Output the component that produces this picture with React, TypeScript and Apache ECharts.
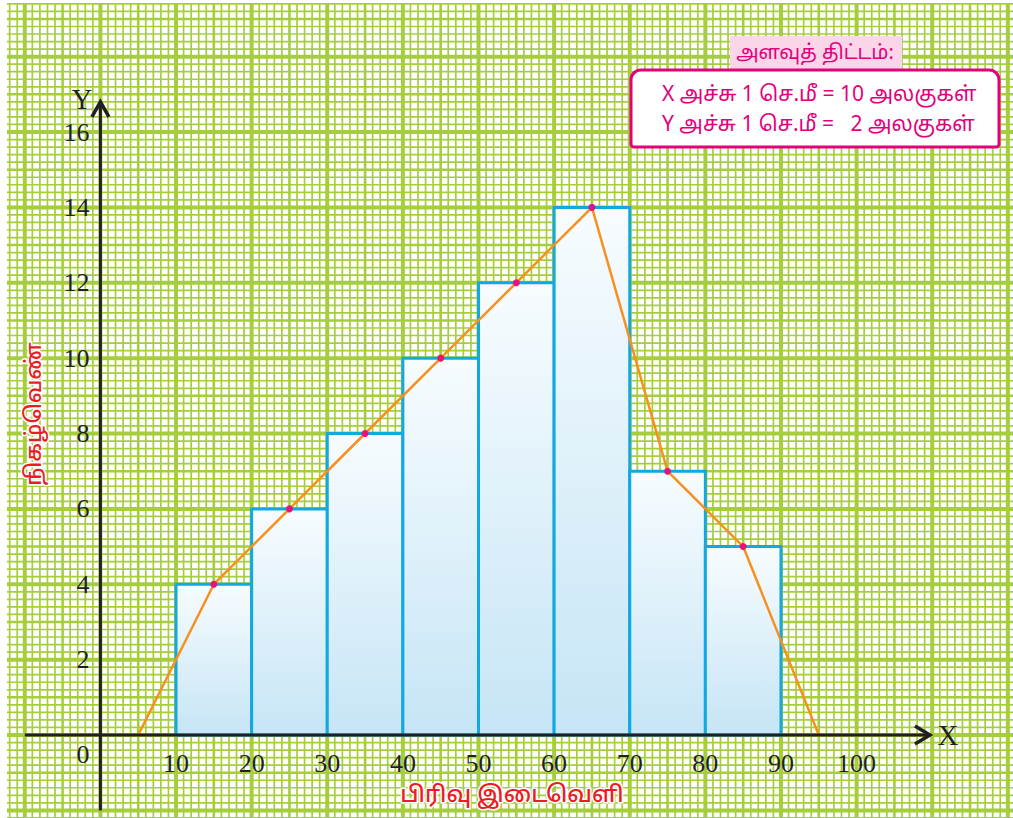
import React, { useEffect, useRef } from "react";
import * as echarts from "echarts";

// ---- data ----
const classStarts = [10, 20, 30, 40, 50, 60, 70, 80];
const classEnds = [20, 30, 40, 50, 60, 70, 80, 90];
const frequencies = [4, 6, 8, 10, 12, 14, 7, 5];
const polygonX = [5, 15, 25, 35, 45, 55, 65, 75, 85, 95];
const polygonY = [0, 4, 6, 8, 10, 12, 14, 7, 5, 0];
const xTickLabels = ["", "10", "20", "30", "40", "50", "60", "70", "80", "90", "100"];
const yTickLabels = ["0", "2", "4", "6", "8", "10", "12", "14", "16"];

const xAxisTitle = "பிரிவு இடைவெளி";
const yAxisTitle = "நிகழ்வெண்";
const scaleTitle = "அளவுத் திட்டம்:";
const scaleLines = ["X அச்சு 1 செ.மீ = 10 அலகுகள்", "Y அச்சு 1 செ.மீ =   2 அலகுகள்"];

const GRID_COLOR = "#a6ce3c";
const AXIS_COLOR = "#231f20";
const SERIF = "'Liberation Serif', 'DejaVu Serif', serif";
const TAMIL = "'Noto Sans Tamil', 'Lohit Tamil', 'Noto Sans', 'DejaVu Sans', sans-serif";

export default function App() {
  const ref = useRef<HTMLDivElement>(null);

  useEffect(() => {
    if (!ref.current) return;
    const chart = echarts.init(ref.current, null, { renderer: "svg" });

    const barData = classStarts.map((s, i) => [s, classEnds[i], frequencies[i]]);
    const polyData = polygonX.map((x, i) => {
      const endpoint = i === 0 || i === polygonX.length - 1;
      return endpoint ? { value: [x, polygonY[i]], symbol: "none" } : { value: [x, polygonY[i]] };
    });

    const option: any = {
      animation: false,
      backgroundColor: "#ffffff",
      grid: { left: 100.4, right: 156.4, top: 132, bottom: 83, containLabel: false },
      xAxis: {
        type: "value",
        min: 0,
        max: 100,
        interval: 10,
        axisLine: { show: false },
        axisTick: { show: false },
        splitLine: { show: false },
        axisLabel: {
          margin: 15,
          fontFamily: SERIF,
          fontSize: 26,
          color: AXIS_COLOR,
          formatter: (v: number) => xTickLabels[Math.round(v / 10)] ?? "",
        },
        name: "X",
        nameLocation: "end",
        nameGap: 81,
        nameTextStyle: { fontFamily: SERIF, fontSize: 29, color: AXIS_COLOR, verticalAlign: "middle", align: "left" },
      },
      yAxis: {
        type: "value",
        min: 0,
        max: 16,
        interval: 2,
        axisLine: { show: false },
        axisTick: { show: false },
        splitLine: { show: false },
        axisLabel: {
          margin: 11,
          fontFamily: SERIF,
          fontSize: 26,
          color: AXIS_COLOR,
          formatter: (v: number) => {
            const t = yTickLabels[Math.round(v / 2)] ?? "";
            return v === 0 ? "{o|" + t + "}" : t;
          },
          rich: {
            o: { fontFamily: SERIF, fontSize: 26, color: AXIS_COLOR, padding: [38, 0, 0, 0] },
          },
        },
        name: "Y",
        nameLocation: "end",
        nameGap: 33,
        nameTextStyle: { fontFamily: SERIF, fontSize: 29, color: AXIS_COLOR, align: "right", verticalAlign: "middle", padding: [0, 8, 0, 0] },
      },
      series: [
        {
          type: "custom",
          name: "paper",
          z: 0,
          silent: true,
          clip: false,
          data: [[0, 0]],
          renderItem: (params: any, api: any) => {
            const children: any[] = [];
            for (let k = -12; k <= 120; k++) {
              const px = api.coord([k, 0])[0];
              const w = k % 10 === 0 ? 4 : k % 5 === 0 ? 2.6 : 1.7;
              children.push({
                type: "line",
                shape: { x1: px, y1: 3, x2: px, y2: 818 },
                style: { stroke: GRID_COLOR, lineWidth: w },
              });
            }
            for (let k = -11; k <= 97; k++) {
              const py = api.coord([0, k / 5])[1];
              const w = k % 10 === 0 ? 4 : k % 5 === 0 ? 2.6 : 1.7;
              children.push({
                type: "line",
                shape: { x1: 7, y1: py, x2: 1013, y2: py },
                style: { stroke: GRID_COLOR, lineWidth: w },
              });
            }
            return { type: "group", children };
          },
        },
        {
          type: "custom",
          name: "histogram",
          z: 2,
          clip: false,
          data: barData,
          renderItem: (params: any, api: any) => {
            const p1 = api.coord([api.value(0), api.value(2)]);
            const p2 = api.coord([api.value(1), 0]);
            return {
              type: "rect",
              shape: { x: p1[0], y: p1[1], width: p2[0] - p1[0], height: p2[1] - p1[1] },
              style: {
                fill: new echarts.graphic.LinearGradient(0, 0, 0, 1, [
                  { offset: 0, color: "#f7fcfe" },
                  { offset: 1, color: "#c6e5f6" },
                ]),
                stroke: "#12a9e1",
                lineWidth: 3,
              },
            };
          },
        },
        {
          type: "line",
          name: "polygon",
          z: 4,
          data: polyData,
          symbol: "circle",
          symbolSize: 7,
          itemStyle: { color: "#e6137d" },
          lineStyle: { color: "#f7901e", width: 2.5 },
        },
        {
          type: "custom",
          name: "axes",
          z: 5,
          silent: true,
          clip: false,
          data: [[0, 0]],
          renderItem: (params: any, api: any) => {
            const xs = api.coord([-10, 0]);
            const xe = api.coord([109.7, 0]);
            const ys = api.coord([0, -2]);
            const ye = api.coord([0, 16.8]);
            const st = { stroke: AXIS_COLOR, lineWidth: 3, fill: "none" };
            return {
              type: "group",
              children: [
                { type: "line", shape: { x1: xs[0], y1: xs[1], x2: xe[0] - 1, y2: xe[1] }, style: st },
                { type: "line", shape: { x1: ys[0], y1: ys[1], x2: ye[0], y2: ye[1] + 1 }, style: st },
                {
                  type: "polyline",
                  shape: { points: [[xe[0] - 15, xe[1] - 9], [xe[0], xe[1]], [xe[0] - 15, xe[1] + 9]] },
                  style: { ...st, lineWidth: 3.5 },
                },
                {
                  type: "polyline",
                  shape: { points: [[ye[0] - 8.5, ye[1] + 15], [ye[0], ye[1]], [ye[0] + 8.5, ye[1] + 15]] },
                  style: { ...st, lineWidth: 3.5 },
                },
              ],
            };
          },
        },
      ],
      graphic: [
        {
          type: "text",
          z: 10,
          x: 512,
          y: 796,
          style: {
            text: xAxisTitle,
            fontFamily: TAMIL,
            fontSize: 23,
            fontWeight: 500,
            fill: "#ec1c24",
            stroke: "#ffffff",
            lineWidth: 3,
            align: "center",
            verticalAlign: "middle",
          },
        },
        {
          type: "text",
          z: 10,
          x: 35,
          y: 414,
          rotation: Math.PI / 2,
          style: {
            text: yAxisTitle,
            fontFamily: TAMIL,
            fontSize: 22,
            fontWeight: 500,
            fill: "#ec1c24",
            stroke: "#ffffff",
            lineWidth: 3,
            align: "center",
            verticalAlign: "middle",
          },
        },
        {
          type: "rect",
          z: 10,
          shape: { x: 730, y: 36, width: 172, height: 33 },
          style: { fill: "#fbd6e8" },
        },
        {
          type: "text",
          z: 11,
          x: 815,
          y: 54,
          style: {
            text: scaleTitle,
            fontFamily: TAMIL,
            fontSize: 20,
            fill: "#e4007c",
            align: "center",
            verticalAlign: "middle",
          },
        },
        {
          type: "rect",
          z: 10,
          shape: { x: 631, y: 70, width: 368, height: 77, r: [10, 10, 3, 3] },
          style: { fill: "#ffffff", stroke: "#e4007c", lineWidth: 3 },
        },
        {
          type: "text",
          z: 11,
          x: 662,
          y: 96,
          style: {
            text: scaleLines[0],
            fontFamily: TAMIL,
            fontSize: 21,
            fill: "#e4007c",
            align: "left",
            verticalAlign: "middle",
          },
        },
        {
          type: "text",
          z: 11,
          x: 662,
          y: 126,
          style: {
            text: scaleLines[1],
            fontFamily: TAMIL,
            fontSize: 21,
            fill: "#e4007c",
            align: "left",
            verticalAlign: "middle",
          },
        },
      ],
    };

    chart.setOption(option);
    return () => chart.dispose();
  }, []);

  return (
    <div
      ref={ref}
      style={{ position: "fixed", left: 0, top: 0, width: 1013, height: 818 }}
    />
  );
}
